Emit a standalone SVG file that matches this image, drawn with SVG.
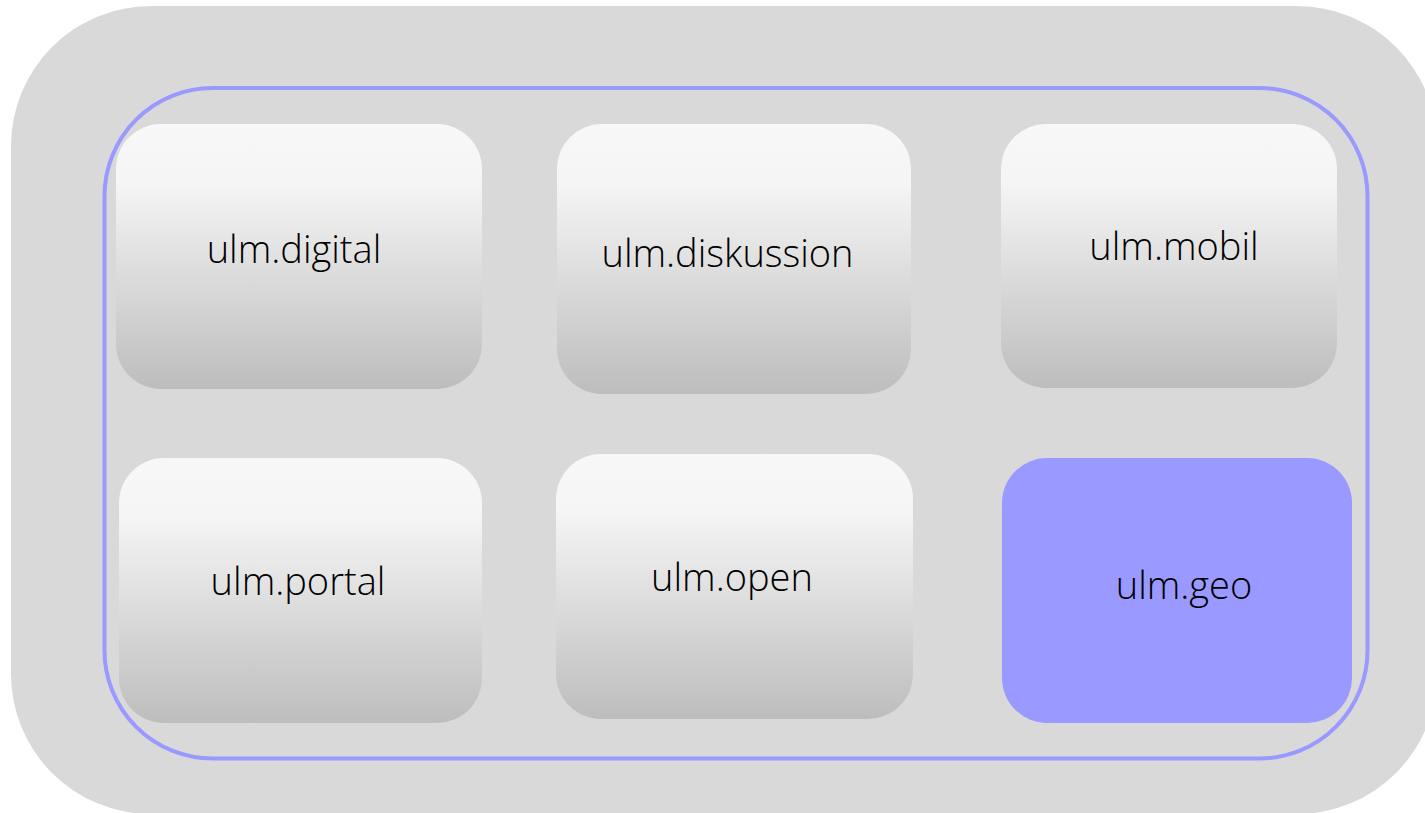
<svg xmlns="http://www.w3.org/2000/svg" width="1425" height="813" viewBox="0 0 1425 813">
  <defs>
    <linearGradient id="grey" x1="0" y1="0" x2="0" y2="1">
      <stop offset="0" stop-color="#f8f8f8"/>
      <stop offset="0.22" stop-color="#f5f5f5"/>
      <stop offset="1" stop-color="#bdbdbd"/>
    </linearGradient>
  </defs>
  <style>
    .node { fill: url(#grey); }
    .geo { fill: #9999ff; }
    .label { font-family: "Open Sans", "Noto Sans", "DejaVu Sans", sans-serif; font-weight: 350; font-size: 38px; fill: #000000; text-anchor: middle; }
  </style>
  <rect width="1425" height="813" fill="#ffffff"/>
  <g id="background">
    <rect x="11" y="6" width="1426" height="808" rx="140" ry="140" fill="#d9d9d9"/>
  </g>
  <g id="frame">
    <rect x="104.5" y="88" width="1263" height="670.5" rx="108" ry="108" fill="none" stroke="#9999ff" stroke-width="4"/>
  </g>
  <g id="connectors"></g>
  <g id="node-digital">
    <rect class="node" x="116" y="124" width="366" height="265" rx="45" ry="45"/>
    <text class="label" x="294" y="263">ulm.digital</text>
  </g>
  <g id="node-diskussion">
    <rect class="node" x="557" y="124" width="354" height="270" rx="45" ry="45"/>
    <text class="label" x="727.5" y="267">ulm.diskussion</text>
  </g>
  <g id="node-mobil">
    <rect class="node" x="1001" y="124" width="336" height="264" rx="45" ry="45"/>
    <text class="label" x="1174" y="260">ulm.mobil</text>
  </g>
  <g id="node-portal">
    <rect class="node" x="119" y="458" width="363" height="265" rx="45" ry="45"/>
    <text class="label" x="298" y="595">ulm.portal</text>
  </g>
  <g id="node-open">
    <rect class="node" x="556" y="454" width="357" height="265" rx="45" ry="45"/>
    <text class="label" x="732" y="591">ulm.open</text>
  </g>
  <g id="node-geo">
    <rect class="geo" x="1002" y="458" width="350" height="265" rx="45" ry="45"/>
    <text class="label" x="1184" y="599">ulm.geo</text>
  </g>
</svg>
